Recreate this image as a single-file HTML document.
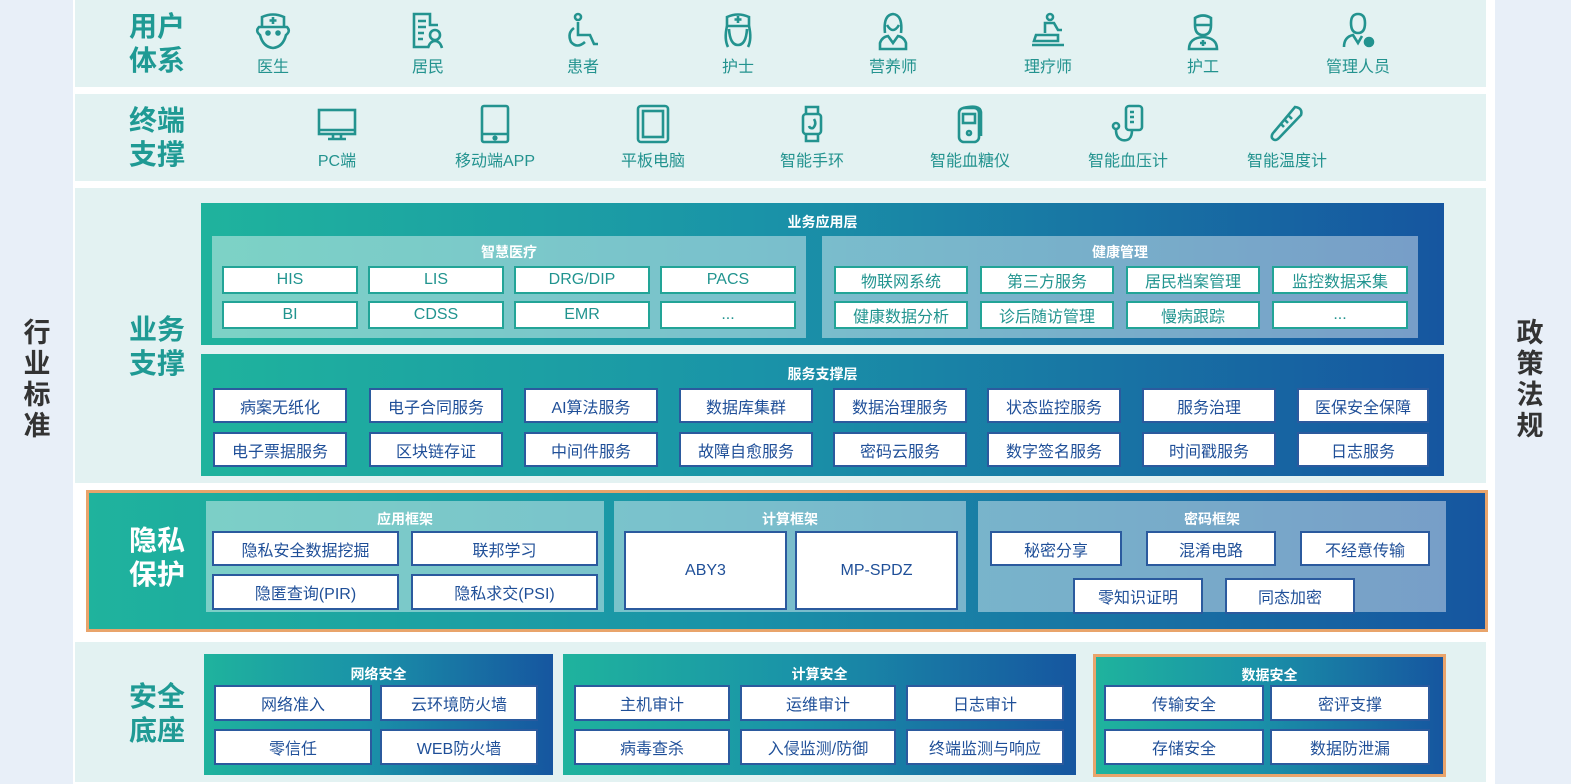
<!DOCTYPE html>
<html><head><meta charset="utf-8">
<style>
*{margin:0;padding:0;box-sizing:border-box}
body{width:1571px;height:784px;position:relative;background:#fff;font-family:"Liberation Sans","Noto Sans CJK SC",sans-serif;overflow:hidden}
.a{position:absolute}
.side{position:absolute;top:0;height:784px;background:#e8eff8}
.vt{position:absolute;font-weight:bold;font-size:27px;color:#333;width:30px;line-height:31px;text-align:center}
.row{position:absolute;background:#e3f2f2}
.lbl{position:absolute;left:113px;width:88px;text-align:center;font-weight:bold;font-size:28px;line-height:34px;color:#1f9a94}
.ic{position:absolute;width:110px;text-align:center;color:#23938f;font-size:16px}
.ic svg{display:block;margin:0 auto 2px}
.g{position:absolute;background:linear-gradient(90deg,#1fb39d 0%,#1a93a8 45%,#1656a0 100%)}
.p{position:absolute;background:rgba(255,255,255,0.42)}
.t{position:absolute;left:0;right:0;text-align:center;color:#fff;font-weight:bold;font-size:14px}
.b{position:absolute;background:#fff;border:2px solid #2b5a9e;color:#1f4f98;display:flex;align-items:center;justify-content:center;font-size:16px;white-space:nowrap}
.bt{border-color:#22a497;color:#21948f}
</style></head><body>

<div class="side" style="left:0;width:73px"></div>
<div class="vt" style="left:22px;top:318px">行<br>业<br>标<br>准</div>
<div class="side" style="left:1495px;width:76px"></div>
<div class="vt" style="left:1515px;top:318px">政<br>策<br>法<br>规</div>

<!-- Row 1 -->
<div class="row" style="left:75px;top:0;width:1411px;height:87px"></div>
<div class="lbl" style="top:10px">用户<br>体系</div>
<div class="ic" style="left:218px;top:11px"><svg width="40" height="40" viewBox="0 0 40 40" fill="none" stroke="#23938f" stroke-width="2.6"><path d="M9 16 V6 Q20 1 31 6 V16 M6 16 H34 Q38 20 33 24 Q30 36 20 37 Q10 36 7 24 Q2 20 6 16Z"/><path d="M20 6 V13 M16.5 9.5 H23.5"/><circle cx="15" cy="22" r="1.5" fill="#23938f"/><circle cx="25" cy="22" r="1.5" fill="#23938f"/></svg>医生</div>
<div class="ic" style="left:373px;top:11px"><svg width="40" height="40" viewBox="0 0 40 40" fill="none" stroke="#23938f" stroke-width="2.6"><path d="M21 36 H6 V3 H22 V14 H30"/><path d="M10 10 H18 M10 16 H18 M10 22 H16 M10 28 H15"/><circle cx="27" cy="24" r="5"/><path d="M20 37 Q22 30 27 30 Q32 30 34 37"/></svg>居民</div>
<div class="ic" style="left:528px;top:11px"><svg width="40" height="40" viewBox="0 0 40 40" fill="none" stroke="#23938f" stroke-width="2.6"><circle cx="15" cy="6" r="3"/><path d="M15 11 V24 H27 L31 33 H35"/><path d="M11 17 Q4 22 8 31 Q14 38 22 31"/></svg>患者</div>
<div class="ic" style="left:683px;top:11px"><svg width="40" height="40" viewBox="0 0 40 40" fill="none" stroke="#23938f" stroke-width="2.6"><path d="M9 15 V6 Q20 1 31 6 V15 Z"/><path d="M20 5 V12 M16.5 8.5 H23.5"/><path d="M9 15 Q6 28 10 36 M31 15 Q34 28 30 36 M11 18 Q12 34 20 34 Q28 34 29 18"/></svg>护士</div>
<div class="ic" style="left:838px;top:11px"><svg width="40" height="40" viewBox="0 0 40 40" fill="none" stroke="#23938f" stroke-width="2.6"><path d="M12 22 Q10 4 20 3 Q30 4 28 22"/><path d="M14 14 Q20 24 26 14"/><path d="M7 38 V32 Q9 26 15 25 L20 32 L25 25 Q31 26 33 32 V38 Z"/></svg>营养师</div>
<div class="ic" style="left:993px;top:11px"><svg width="40" height="40" viewBox="0 0 40 40" fill="none" stroke="#23938f" stroke-width="2.6"><circle cx="22" cy="6" r="3"/><path d="M17 22 V12 H26 L30 19 H34 M8 24 H30 V30 H6 Z M4 34 H36"/></svg>理疗师</div>
<div class="ic" style="left:1148px;top:11px"><svg width="40" height="40" viewBox="0 0 40 40" fill="none" stroke="#23938f" stroke-width="2.6"><path d="M12 14 V7 Q20 2 28 7 V14 M12 14 Q12 24 20 24 Q28 24 28 14 Z"/><path d="M6 38 Q6 27 20 26 Q34 27 34 38 Z"/><path d="M20 29 V35 M17 32 H23"/></svg>护工</div>
<div class="ic" style="left:1303px;top:11px"><svg width="40" height="40" viewBox="0 0 40 40" fill="none" stroke="#23938f" stroke-width="2.6"><path d="M13 12 Q13 3 20 3 Q27 3 27 12 Q27 22 20 22 Q13 22 13 12Z"/><path d="M6 36 Q6 26 15 24 L20 32 L24 25"/><circle cx="31" cy="31" r="4" fill="#23938f"/></svg>管理人员</div>

<!-- Row 2 -->
<div class="row" style="left:75px;top:94px;width:1411px;height:87px"></div>
<div class="lbl" style="top:104px">终端<br>支撑</div>
<div class="ic" style="left:282px;top:103px"><svg width="40" height="42" viewBox="0 0 40 40" fill="none" stroke="#23938f" stroke-width="2.6"><rect x="2" y="6" width="36" height="24"/><path d="M2 26 H38 M16 30 V34 M24 30 V34 M11 35 H29"/></svg>PC端</div>
<div class="ic" style="left:440px;top:103px"><svg width="40" height="42" viewBox="0 0 40 40" fill="none" stroke="#23938f" stroke-width="2.6"><rect x="7" y="2" width="26" height="36" rx="2"/><path d="M7 30 H33"/><circle cx="20" cy="34" r="1.3" fill="#23938f"/></svg>移动端APP</div>
<div class="ic" style="left:598px;top:103px"><svg width="40" height="42" viewBox="0 0 40 40" fill="none" stroke="#23938f" stroke-width="2.6"><rect x="5" y="2" width="30" height="36" rx="3"/><rect x="10" y="7" width="20" height="26"/></svg>平板电脑</div>
<div class="ic" style="left:757px;top:103px"><svg width="40" height="42" viewBox="0 0 40 40" fill="none" stroke="#23938f" stroke-width="2.6"><path d="M14 10 V3 H26 V10 M14 30 V37 H26 V30"/><rect x="11" y="10" width="18" height="20" rx="3"/><path d="M22 15 Q25 20 21 24 Q18 25 17 22"/></svg>智能手环</div>
<div class="ic" style="left:915px;top:103px"><svg width="40" height="42" viewBox="0 0 40 40" fill="none" stroke="#23938f" stroke-width="2.6"><rect x="9" y="4" width="20" height="34" rx="5"/><path d="M13 4 Q30 0 31 8 V32"/><rect x="13" y="10" width="12" height="9"/><circle cx="19" cy="29" r="2"/></svg>智能血糖仪</div>
<div class="ic" style="left:1073px;top:103px"><svg width="40" height="42" viewBox="0 0 40 40" fill="none" stroke="#23938f" stroke-width="2.6"><rect x="18" y="2" width="16" height="24" rx="3"/><path d="M22 8 H26 M22 13 H26 M22 18 H26 M24 26 Q24 38 14 36 Q8 34 8 26"/><circle cx="8" cy="22" r="3"/></svg>智能血压计</div>
<div class="ic" style="left:1232px;top:103px"><svg width="40" height="42" viewBox="0 0 40 40" fill="none" stroke="#23938f" stroke-width="2.6"><path d="M28 3 Q36 4 34 11 L12 34 Q8 38 5 34 Q4 31 7 28 Z"/><path d="M22 12 L25 15 M18 16 L21 19 M14 20 L17 23"/></svg>智能温度计</div>

<!-- Row 3 -->
<div class="row" style="left:75px;top:188px;width:1411px;height:295px"></div>
<div class="lbl" style="top:313px">业务<br>支撑</div>
<div class="g" style="left:201px;top:203px;width:1243px;height:142px"><div class="t" style="top:9px">业务应用层</div></div>
<div class="p" style="left:212px;top:236px;width:594px;height:102px"><div class="t" style="top:6px">智慧医疗</div></div>
<div class="p" style="left:822px;top:236px;width:596px;height:102px"><div class="t" style="top:6px">健康管理</div></div>
<div class="b bt" style="left:222px;top:266px;width:136px;height:28px">HIS</div>
<div class="b bt" style="left:368px;top:266px;width:136px;height:28px">LIS</div>
<div class="b bt" style="left:514px;top:266px;width:136px;height:28px">DRG/DIP</div>
<div class="b bt" style="left:660px;top:266px;width:136px;height:28px">PACS</div>
<div class="b bt" style="left:222px;top:301px;width:136px;height:28px">BI</div>
<div class="b bt" style="left:368px;top:301px;width:136px;height:28px">CDSS</div>
<div class="b bt" style="left:514px;top:301px;width:136px;height:28px">EMR</div>
<div class="b bt" style="left:660px;top:301px;width:136px;height:28px">...</div>
<div class="b bt" style="left:834px;top:266px;width:134px;height:28px">物联网系统</div>
<div class="b bt" style="left:980px;top:266px;width:134px;height:28px">第三方服务</div>
<div class="b bt" style="left:1126px;top:266px;width:134px;height:28px">居民档案管理</div>
<div class="b bt" style="left:1272px;top:266px;width:136px;height:28px">监控数据采集</div>
<div class="b bt" style="left:834px;top:301px;width:134px;height:28px">健康数据分析</div>
<div class="b bt" style="left:980px;top:301px;width:134px;height:28px">诊后随访管理</div>
<div class="b bt" style="left:1126px;top:301px;width:134px;height:28px">慢病跟踪</div>
<div class="b bt" style="left:1272px;top:301px;width:136px;height:28px">...</div>

<div class="g" style="left:201px;top:354px;width:1243px;height:122px"><div class="t" style="top:10px">服务支撑层</div></div>
<div class="b" style="left:213px;top:388px;width:134px;height:35px">病案无纸化</div>
<div class="b" style="left:369px;top:388px;width:134px;height:35px">电子合同服务</div>
<div class="b" style="left:524px;top:388px;width:134px;height:35px">AI算法服务</div>
<div class="b" style="left:679px;top:388px;width:134px;height:35px">数据库集群</div>
<div class="b" style="left:833px;top:388px;width:134px;height:35px">数据治理服务</div>
<div class="b" style="left:987px;top:388px;width:134px;height:35px">状态监控服务</div>
<div class="b" style="left:1142px;top:388px;width:134px;height:35px">服务治理</div>
<div class="b" style="left:1297px;top:388px;width:132px;height:35px">医保安全保障</div>
<div class="b" style="left:213px;top:432px;width:134px;height:35px">电子票据服务</div>
<div class="b" style="left:369px;top:432px;width:134px;height:35px">区块链存证</div>
<div class="b" style="left:524px;top:432px;width:134px;height:35px">中间件服务</div>
<div class="b" style="left:679px;top:432px;width:134px;height:35px">故障自愈服务</div>
<div class="b" style="left:833px;top:432px;width:134px;height:35px">密码云服务</div>
<div class="b" style="left:987px;top:432px;width:134px;height:35px">数字签名服务</div>
<div class="b" style="left:1142px;top:432px;width:134px;height:35px">时间戳服务</div>
<div class="b" style="left:1297px;top:432px;width:132px;height:35px">日志服务</div>

<!-- Row 4 -->
<div class="g" style="left:86px;top:490px;width:1402px;height:142px;border:3px solid #e9a46b"></div>
<div class="lbl" style="top:524px;color:#fff">隐私<br>保护</div>
<div class="p" style="left:206px;top:501px;width:398px;height:111px"><div class="t" style="top:8px">应用框架</div></div>
<div class="p" style="left:614px;top:501px;width:352px;height:111px"><div class="t" style="top:8px">计算框架</div></div>
<div class="p" style="left:978px;top:501px;width:468px;height:111px"><div class="t" style="top:8px">密码框架</div></div>
<div class="b" style="left:212px;top:531px;width:187px;height:35px">隐私安全数据挖掘</div>
<div class="b" style="left:411px;top:531px;width:187px;height:35px">联邦学习</div>
<div class="b" style="left:212px;top:574px;width:187px;height:36px">隐匿查询(PIR)</div>
<div class="b" style="left:411px;top:574px;width:187px;height:36px">隐私求交(PSI)</div>
<div class="b" style="left:624px;top:531px;width:163px;height:79px">ABY3</div>
<div class="b" style="left:795px;top:531px;width:163px;height:79px">MP-SPDZ</div>
<div class="b" style="left:990px;top:531px;width:132px;height:35px">秘密分享</div>
<div class="b" style="left:1146px;top:531px;width:130px;height:35px">混淆电路</div>
<div class="b" style="left:1300px;top:531px;width:130px;height:35px">不经意传输</div>
<div class="b" style="left:1073px;top:578px;width:130px;height:36px">零知识证明</div>
<div class="b" style="left:1225px;top:578px;width:130px;height:36px">同态加密</div>

<!-- Row 5 -->
<div class="row" style="left:75px;top:642px;width:1411px;height:140px"></div>
<div class="lbl" style="top:680px">安全<br>底座</div>
<div class="g" style="left:204px;top:654px;width:349px;height:121px"><div class="t" style="top:10px">网络安全</div></div>
<div class="g" style="left:563px;top:654px;width:513px;height:121px"><div class="t" style="top:10px">计算安全</div></div>
<div class="g" style="left:1093px;top:654px;width:353px;height:123px;border:3px solid #e9a46b"><div class="t" style="top:8px">数据安全</div></div>
<div class="b" style="left:214px;top:685px;width:158px;height:36px">网络准入</div>
<div class="b" style="left:380px;top:685px;width:158px;height:36px">云环境防火墙</div>
<div class="b" style="left:214px;top:729px;width:158px;height:36px">零信任</div>
<div class="b" style="left:380px;top:729px;width:158px;height:36px">WEB防火墙</div>
<div class="b" style="left:574px;top:685px;width:156px;height:36px">主机审计</div>
<div class="b" style="left:740px;top:685px;width:156px;height:36px">运维审计</div>
<div class="b" style="left:906px;top:685px;width:158px;height:36px">日志审计</div>
<div class="b" style="left:574px;top:729px;width:156px;height:36px">病毒查杀</div>
<div class="b" style="left:740px;top:729px;width:156px;height:36px">入侵监测/防御</div>
<div class="b" style="left:906px;top:729px;width:158px;height:36px">终端监测与响应</div>
<div class="b" style="left:1104px;top:685px;width:160px;height:36px">传输安全</div>
<div class="b" style="left:1270px;top:685px;width:160px;height:36px">密评支撑</div>
<div class="b" style="left:1104px;top:729px;width:160px;height:36px">存储安全</div>
<div class="b" style="left:1270px;top:729px;width:160px;height:36px">数据防泄漏</div>
</body></html>
